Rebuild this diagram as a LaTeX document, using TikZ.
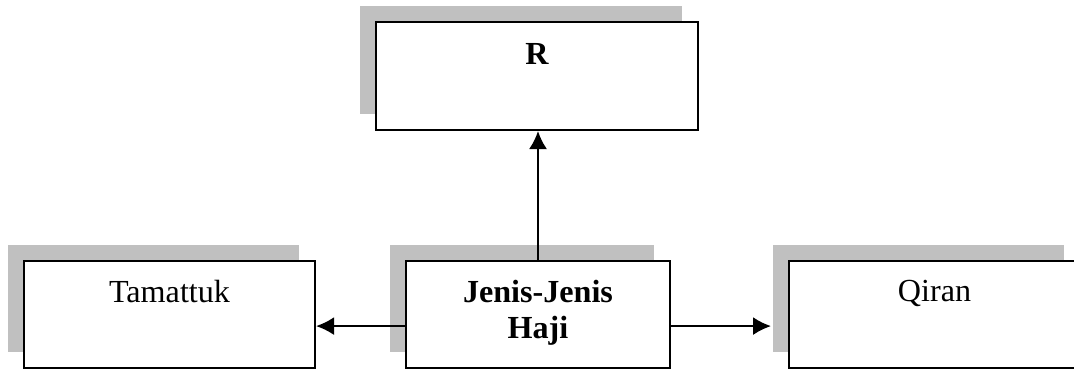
\documentclass[tikz,border=0pt]{standalone}
\usepackage{fontspec}
\setmainfont{Liberation Serif}
\usetikzlibrary{arrows.meta,shadows,positioning}
\definecolor{abu}{HTML}{C0C0C0}

\begin{document}
\begin{tikzpicture}[x=0.389pt, y=-0.389pt,
  kotak/.style={draw, line width=0.8pt, fill=white, inner sep=0pt, minimum height=41.6pt,
    drop shadow={shadow xshift=-6.2pt, shadow yshift=6.2pt, fill=abu, opacity=1}},
  teks/.style={inner sep=0pt, align=center, font=\fontsize{12.5pt}{14pt}\selectfont},
  panah/.style={->, line width=0.8pt, >={Latex[length=7pt,width=7pt]}}]
\clip (0,0) rectangle (1074,369);
\node [kotak, minimum width=125.3pt, minimum height=42pt] (r) at (537,76) {};
\node [kotak, minimum width=113.2pt] (tamattuk) at (169.5,314.5) {};
\node [kotak, minimum width=102.7pt] (jenis) at (538,314.5) {};
\node [kotak, minimum width=113.2pt] (qiran) at (934.5,314.5) {};
\node [teks, below=8.4pt of r.north] (rteks) {\textbf{R}};
\node [teks, below=7.6pt of tamattuk.north] (tamteks) {Tamattuk};
\node [teks, below=7.6pt of jenis.north] (jenisteks) {\textbf{Jenis-Jenis}\\\textbf{Haji}};
\node [teks, below=7.6pt of qiran.north] (qiranteks) {Qiran};
\coordinate (kiri) at ([yshift=-4.5pt]tamattuk.east);
\coordinate (kanan) at ([xshift=-6.6pt, yshift=-4.5pt]qiran.west);
\draw [panah] (jenis.north) -- (jenis.north |- r.south);
\draw [panah] (jenis.west |- kiri) -- (kiri);
\draw [panah] (jenis.east |- kanan) -- (kanan);
\end{tikzpicture}
\end{document}
